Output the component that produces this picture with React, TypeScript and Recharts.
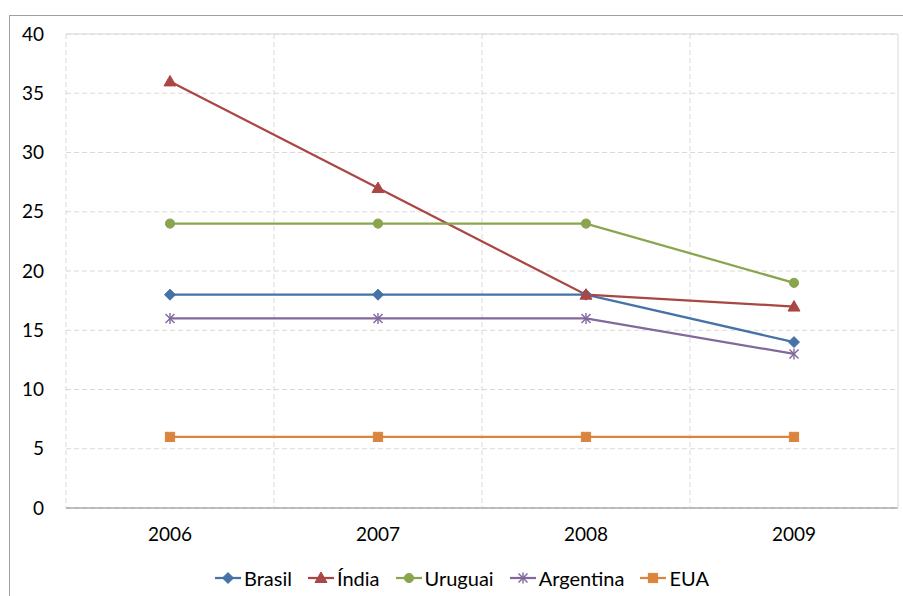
import React from 'react';
import { LineChart, Line, XAxis, YAxis, CartesianGrid, ReferenceLine } from 'recharts';

const years = ['2006', '2007', '2008', '2009'];
const brasil = [18, 18, 18, 14];
const india = [36, 27, 18, 17];
const uruguai = [24, 24, 24, 19];
const argentina = [16, 16, 16, 13];
const eua = [6, 6, 6, 6];
const yTicks = [0, 5, 10, 15, 20, 25, 30, 35, 40];

const data = years.map((y, i) => ({
  year: y,
  Brasil: brasil[i],
  India: india[i],
  Uruguai: uruguai[i],
  Argentina: argentina[i],
  EUA: eua[i],
}));

const FONT = 'Lato, "Open Sans", sans-serif';

type Shape = 'diamond' | 'triangle' | 'circle' | 'star' | 'square';

const markerEl = (shape: Shape, cx: number, cy: number, color: string, key?: any) => {
  switch (shape) {
    case 'diamond':
      return <path key={key} d={`M${cx},${cy - 5.5}L${cx + 5.5},${cy}L${cx},${cy + 5.5}L${cx - 5.5},${cy}Z`} fill={color} stroke={color} />;
    case 'triangle':
      return <path key={key} d={`M${cx},${cy - 6}L${cx + 6},${cy + 4.5}L${cx - 6},${cy + 4.5}Z`} fill={color} stroke={color} />;
    case 'circle':
      return <circle key={key} cx={cx} cy={cy} r={4.6} fill={color} stroke={color} />;
    case 'square':
      return <rect key={key} x={cx - 4.6} y={cy - 4.6} width={9.2} height={9.2} fill={color} stroke={color} />;
    case 'star':
      return (
        <g key={key} stroke={color} strokeWidth={1.4} fill="none">
          <line x1={cx - 4.5} y1={cy - 4.5} x2={cx + 4.5} y2={cy + 4.5} />
          <line x1={cx - 4.5} y1={cy + 4.5} x2={cx + 4.5} y2={cy - 4.5} />
          <line x1={cx} y1={cy - 5.5} x2={cx} y2={cy + 5.5} />
        </g>
      );
  }
  return null;
};

const series: { key: string; label: string; color: string; shape: Shape }[] = [
  { key: 'Brasil', label: 'Brasil', color: '#4572A7', shape: 'diamond' },
  { key: 'India', label: 'Índia', color: '#AA4643', shape: 'triangle' },
  { key: 'Uruguai', label: 'Uruguai', color: '#89A54E', shape: 'circle' },
  { key: 'Argentina', label: 'Argentina', color: '#80699B', shape: 'star' },
  { key: 'EUA', label: 'EUA', color: '#DB843D', shape: 'square' },
];

const LegendRow = () => (
  <div
    style={{
      position: 'absolute',
      left: 215,
      top: 566,
      height: 24,
      display: 'flex',
      alignItems: 'center',
      fontFamily: FONT,
      fontSize: 20,
      color: '#000',
      whiteSpace: 'nowrap',
    }}
  >
    {series.map((s) => (
      <div key={s.key} style={{ display: 'flex', alignItems: 'center', marginRight: 16 }}>
        <svg width={26} height={14} style={{ marginRight: 3 }}>
          <line x1={0} y1={7} x2={26} y2={7} stroke={s.color} strokeWidth={2.25} />
          {markerEl(s.shape, 13, 7, s.color)}
        </svg>
        <span>{s.label}</span>
      </div>
    ))}
  </div>
);

export default function App() {
  return (
    <div style={{ position: 'fixed', left: 0, top: 0, width: 903, height: 596, overflow: 'hidden', background: '#fff' }}>
      <div
        style={{
          position: 'absolute',
          left: 9,
          top: 15,
          width: 1000,
          height: 1000,
          borderLeft: '1px solid #a0a0a0',
          borderTop: '1px solid #a0a0a0',
        }}
      />
      <div style={{ position: 'absolute', left: 0, top: 0 }}>
        <LineChart width={903} height={596} data={data} margin={{ top: 34, right: 4, bottom: 58, left: 0 }}>
          <CartesianGrid
            stroke="#d9d9d9"
            strokeDasharray="5 3"
            verticalCoordinatesGenerator={({ offset }: any) =>
              [0, 1, 2, 3].map((i) => offset.left + (i * offset.width) / 4)
            }
          />
          <XAxis
            dataKey="year"
            axisLine={{ stroke: '#868686' }}
            tickLine={false}
            tickSize={6}
            tickMargin={14}
            height={30}
            padding={{ left: 104, right: 104 }}
            tick={{ fill: '#000', fontSize: 19, fontFamily: FONT }}
          />
          <YAxis
            domain={[0, 40]}
            ticks={yTicks}
            axisLine={false}
            tickLine={false}
            tickSize={6}
            tickMargin={16}
            width={66}
            interval={0}
            tick={{ fill: '#000', fontSize: 19, fontFamily: FONT }}
          />
          <YAxis
            yAxisId="r"
            orientation="right"
            width={1}
            axisLine={{ stroke: '#d9d9d9' }}
            tick={false}
            tickLine={false}
          />
          <ReferenceLine y={40} stroke="#d9d9d9" />
          {series.map((s) => (
            <Line
              key={s.key}
              dataKey={s.key}
              stroke={s.color}
              strokeWidth={2.25}
              isAnimationActive={false}
              dot={(p: any) => markerEl(s.shape, p.cx, p.cy, s.color, `${s.key}-${p.index}`)}
              activeDot={false}
            />
          ))}
        </LineChart>
      </div>
      <LegendRow />
    </div>
  );
}
